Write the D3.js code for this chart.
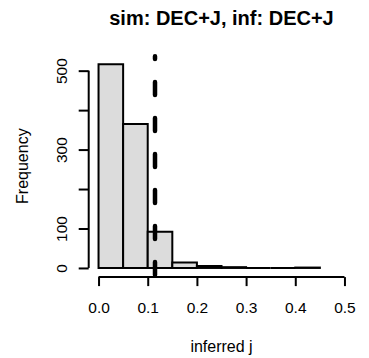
<!DOCTYPE html>
<html>
<head>
<meta charset="utf-8">
<script src="https://cdn.jsdelivr.net/npm/d3@7"></script>
<style>
  body { margin: 0; background: #fff; }
  text { font-family: "Liberation Sans", Arial, Helvetica, sans-serif; fill: #000; }
</style>
</head>
<body>
<div id="chart"></div>
<script>
// histogram of inferred j (bin edges + counts)
const breaks = [0, 0.05, 0.10, 0.15, 0.20, 0.25, 0.30, 0.35, 0.40, 0.45];
const counts = [516, 365, 92, 14, 5, 2, 0, 0, 1];
const xTicks = [0, 0.1, 0.2, 0.3, 0.4, 0.5];
const yTicks = [0, 100, 200, 300, 400, 500];
const yTickLabels = ["0", "100", "", "300", "", "500"];
const trueJ = 0.1148; // dashed reference line

const svgWidth = 369, svgHeight = 358;
// plot region (R style, 4% padding around the data range)
const plot = { left: 88.7, right: 354.3, top: 56.2, bottom: 276.1 };

const ymax = d3.max(counts);
const x = d3.scaleLinear([-0.02, 0.52], [plot.left, plot.right]);
const y = d3.scaleLinear([-0.04 * ymax, 1.04 * ymax], [plot.bottom, plot.top]);

const svg = d3.select("#chart").append("svg")
  .attr("width", svgWidth)
  .attr("height", svgHeight);

const bins = counts.map((c, i) => ({ x0: breaks[i], x1: breaks[i + 1], n: c }));

// bars as closed paths so empty bins still show a line on the baseline
svg.selectAll("path.bar")
  .data(bins)
  .enter()
  .append("path")
  .attr("class", "bar")
  .attr("d", d => {
    const p = d3.path();
    p.moveTo(x(d.x0), y(0));
    p.lineTo(x(d.x0), y(d.n));
    p.lineTo(x(d.x1), y(d.n));
    p.lineTo(x(d.x1), y(0));
    p.closePath();
    return p.toString();
  })
  .attr("fill", "#dcdcdc")
  .attr("stroke", "#000")
  .attr("stroke-width", 2);

// dashed vertical line
svg.append("line")
  .attr("x1", x(trueJ)).attr("x2", x(trueJ))
  .attr("y1", plot.bottom - 1).attr("y2", plot.top)
  .attr("stroke", "#000")
  .attr("stroke-width", 4.5)
  .attr("stroke-linecap", "round")
  .attr("stroke-dasharray", "13,23");

// x axis
const xAxis = d3.axisBottom(x).tickValues(xTicks).tickSize(9).tickFormat(d3.format(".1f"));
const gx = svg.append("g")
  .attr("transform", `translate(0,${plot.bottom + 1})`)
  .call(xAxis);
gx.select(".domain").remove();
gx.append("line")
  .attr("x1", x(xTicks[0])).attr("x2", x(xTicks[xTicks.length - 1]))
  .attr("stroke", "#000").attr("stroke-width", 2);
gx.selectAll(".tick line").attr("stroke-width", 2);
gx.selectAll(".tick text")
  .attr("y", 36)
  .attr("dy", 0)
  .style("font-size", "15.5px");

// y axis
const yAxis = d3.axisLeft(y).tickValues(yTicks).tickSize(10)
  .tickFormat((d, i) => yTickLabels[i]);
const gy = svg.append("g")
  .attr("transform", `translate(${plot.left},0)`)
  .call(yAxis);
gy.select(".domain").remove();
gy.append("line")
  .attr("y1", y(yTicks[0])).attr("y2", y(yTicks[yTicks.length - 1]))
  .attr("stroke", "#000").attr("stroke-width", 2);
gy.selectAll(".tick line").attr("stroke-width", 2);
gy.selectAll(".tick text")
  .attr("x", 0).attr("y", 0).attr("dy", 0)
  .attr("text-anchor", "middle")
  .attr("transform", "translate(-22,0) rotate(-90)")
  .style("font-size", "15.5px");

// titles
svg.append("text")
  .attr("x", (plot.left + plot.right) / 2)
  .attr("y", 25)
  .attr("text-anchor", "middle")
  .style("font-size", "20px")
  .style("font-weight", "bold")
  .text("sim: DEC+J, inf: DEC+J");

svg.append("text")
  .attr("x", (plot.left + plot.right) / 2)
  .attr("y", 352)
  .attr("text-anchor", "middle")
  .style("font-size", "16px")
  .text("inferred j");

svg.append("text")
  .attr("transform", `translate(28,${(plot.top + plot.bottom) / 2}) rotate(-90)`)
  .attr("text-anchor", "middle")
  .style("font-size", "16px")
  .text("Frequency");
</script>
</body>
</html>
